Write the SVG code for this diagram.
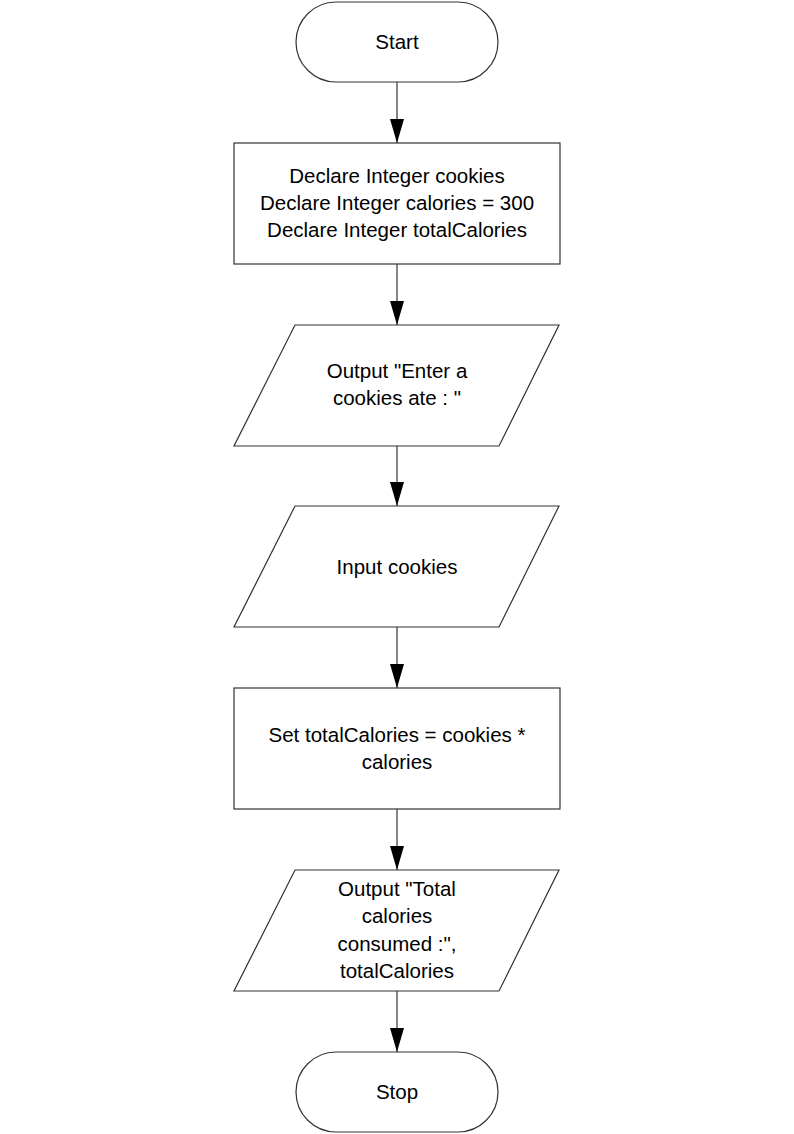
<svg xmlns="http://www.w3.org/2000/svg" width="794" height="1134" viewBox="0 0 794 1134">
<style>
.s{fill:#fff;stroke:#333;stroke-width:1.2}
.t{font-family:"Liberation Sans",Arial,sans-serif;font-size:20.5px;fill:#000;text-anchor:middle}
.c{stroke:#444;stroke-width:1.3;fill:none;marker-end:url(#ah)}
</style>
<defs>
<marker id="ah" markerUnits="userSpaceOnUse" markerWidth="24" markerHeight="14" refX="24" refY="7" orient="auto" viewBox="0 0 24 14">
<path d="M0,0 L24,7 L0,14 Z" fill="#000"/>
</marker>
</defs>
<rect width="794" height="1134" fill="#fff"/>
<g id="connectors">
<line class="c" x1="397" y1="82" x2="397" y2="143"/>
<line class="c" x1="397" y1="264" x2="397" y2="325"/>
<line class="c" x1="397" y1="446" x2="397" y2="506"/>
<line class="c" x1="397" y1="627" x2="397" y2="688"/>
<line class="c" x1="397" y1="809" x2="397" y2="870"/>
<line class="c" x1="397" y1="991" x2="397" y2="1052"/>
</g>
<g id="start">
<rect class="s" x="296" y="2" width="202" height="80" rx="40" ry="40"/>
<text class="t" x="397" y="49">Start</text>
</g>
<g id="declare">
<rect class="s" x="234" y="143" width="326" height="121"/>
<text class="t" x="397" y="182.5">Declare Integer cookies</text>
<text class="t" x="397" y="209.5">Declare Integer calories = 300</text>
<text class="t" x="397" y="236.5">Declare Integer totalCalories</text>
</g>
<g id="output1">
<polygon class="s" points="295,325 559,325 499,446 234,446"/>
<text class="t" x="397" y="378">Output "Enter a</text>
<text class="t" x="397" y="405">cookies ate : "</text>
</g>
<g id="input">
<polygon class="s" points="295,506 559,506 499,627 234,627"/>
<text class="t" x="397" y="574">Input cookies</text>
</g>
<g id="set">
<rect class="s" x="234" y="688" width="326" height="121"/>
<text class="t" x="397" y="742">Set totalCalories = cookies *</text>
<text class="t" x="397" y="769">calories</text>
</g>
<g id="output2">
<polygon class="s" points="295,870 559,870 499,991 234,991"/>
<text class="t" x="397" y="896">Output "Total</text>
<text class="t" x="397" y="923">calories</text>
<text class="t" x="397" y="950.5">consumed :",</text>
<text class="t" x="397" y="978">totalCalories</text>
</g>
<g id="stop">
<rect class="s" x="296" y="1052" width="202" height="80" rx="40" ry="40"/>
<text class="t" x="397" y="1099">Stop</text>
</g>
</svg>
